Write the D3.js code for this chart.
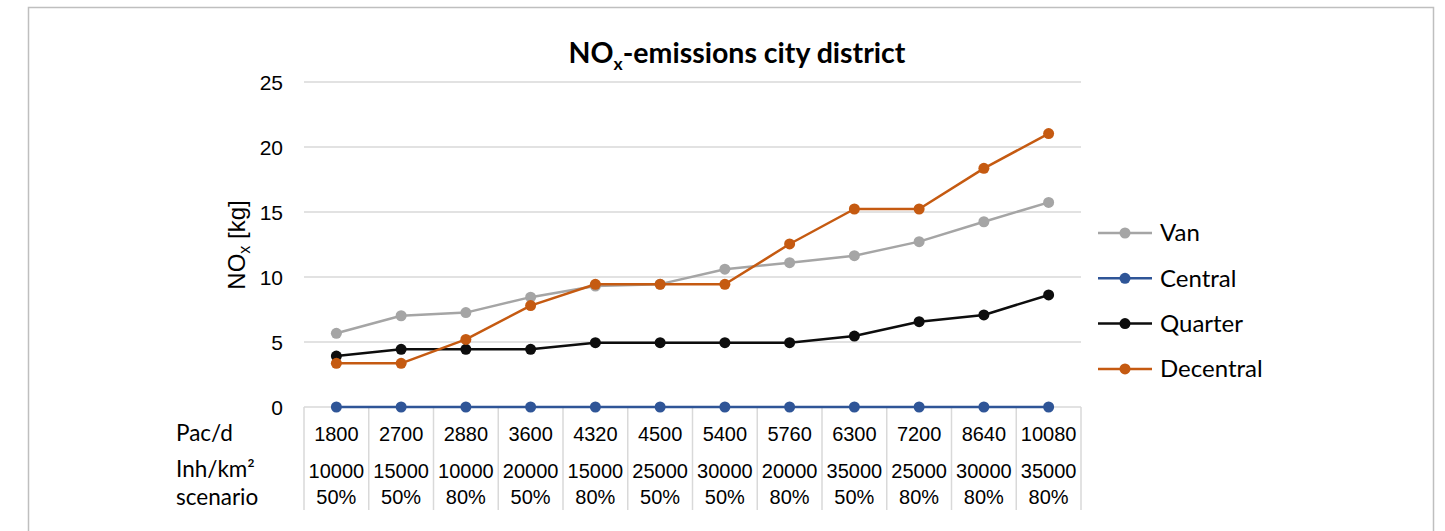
<!DOCTYPE html>
<html>
<head>
<meta charset="utf-8">
<script src="https://cdn.jsdelivr.net/npm/d3@7"></script>
<style>
  html, body { margin: 0; padding: 0; background: #fff; }
  svg { display: block; }
</style>
</head>
<body>
<svg id="chart" width="1445" height="531"></svg>
<script>
// ---- data ----
const pacPerDay = ["1800","2700","2880","3600","4320","4500","5400","5760","6300","7200","8640","10080"];
const inhPerKm2 = ["10000","15000","10000","20000","15000","25000","30000","20000","35000","25000","30000","35000"];
const scenario  = ["50%","50%","80%","50%","80%","50%","50%","80%","50%","80%","80%","80%"];
const van       = [5.67, 7.02, 7.26, 8.45, 9.3, 9.45, 10.6, 11.1, 11.64, 12.72, 14.25, 15.74];
const central   = [0,0,0,0,0,0,0,0,0,0,0,0];
const quarter   = [3.92, 4.44, 4.44, 4.44, 4.95, 4.95, 4.95, 4.95, 5.46, 6.56, 7.08, 8.62];
const decentral = [3.36, 3.36, 5.2, 7.8, 9.44, 9.44, 9.44, 12.54, 15.23, 15.23, 18.36, 21.03];
const yTicks = [0, 5, 10, 15, 20, 25];
const rowLabels = ["Pac/d", "Inh/km²", "scenario"];

(function () {
const series = [
  { name: "Van", values: van, color: "#A5A5A5" },
  { name: "Central", values: central, color: "#2F5597" },
  { name: "Quarter", values: quarter, color: "#0D0D0D" },
  { name: "Decentral", values: decentral, color: "#C55A11" }
];

const svg = d3.select("#chart");
const pLeft = 304, pRight = 1081, pTop = 82, pBottom = 407;

// outer border
svg.append("rect").attr("x", 28.5).attr("y", 7.5).attr("width", 1405).attr("height", 560)
  .attr("fill", "#fff").attr("stroke", "#BFBFBF").attr("stroke-width", 1.5);

const x = d3.scaleBand().domain(pacPerDay.map((d, i) => i)).range([pLeft, pRight]).padding(0);
const y = d3.scaleLinear().domain([0, 25]).range([pBottom, pTop]);

// gridlines
svg.append("g").selectAll("line").data(yTicks.filter(d => d > 0)).join("line")
  .attr("x1", pLeft).attr("x2", pRight)
  .attr("y1", d => y(d)).attr("y2", d => y(d))
  .attr("stroke", "#D9D9D9").attr("stroke-width", 1.5);

// y axis labels
const yAxis = d3.axisLeft(y).tickValues(yTicks).tickSize(0).tickPadding(0);
const gy = svg.append("g").attr("transform", `translate(${pLeft - 21},0)`).call(yAxis);
gy.select(".domain").remove();
gy.selectAll("text").attr("font-family", "Liberation Sans, Arial, sans-serif")
  .attr("font-size", 21).attr("fill", "#000").attr("dy", "0.35em");

// y axis title
const yt = svg.append("text")
  .attr("transform", `translate(245,245) rotate(-90)`)
  .attr("text-anchor", "middle")
  .attr("font-family", "Liberation Sans, Arial, sans-serif")
  .attr("font-size", 24).attr("fill", "#000");
yt.append("tspan").text("NO");
yt.append("tspan").text("x").attr("font-size", 16).attr("dy", 5);
yt.append("tspan").text(" [kg]").attr("dy", -5);

// table: baseline + vertical cell lines
svg.append("line").attr("x1", pLeft).attr("x2", pRight).attr("y1", pBottom).attr("y2", pBottom)
  .attr("stroke", "#D9D9D9").attr("stroke-width", 1.5);
const bounds = pacPerDay.map((d, i) => x(i)).concat([x(pacPerDay.length - 1) + x.bandwidth()]);
svg.append("g").selectAll("line").data(bounds).join("line")
  .attr("x1", d => d).attr("x2", d => d).attr("y1", pBottom).attr("y2", 510)
  .attr("stroke", "#D9D9D9").attr("stroke-width", 1.5);

const cellFont = "Liberation Sans, Arial, sans-serif";
const rowsData = [
  { vals: pacPerDay, yb: 441 },
  { vals: inhPerKm2, yb: 478 },
  { vals: scenario, yb: 504 }
];
rowsData.forEach(r => {
  svg.append("g").selectAll("text").data(r.vals).join("text")
    .attr("x", (d, i) => x(i) + x.bandwidth() / 2)
    .attr("y", r.yb)
    .attr("text-anchor", "middle")
    .attr("font-family", cellFont).attr("font-size", 20).attr("fill", "#000")
    .text(d => d);
});

// row labels
const labelFont = "Lato, Carlito, Calibri, sans-serif";
svg.append("g").selectAll("text").data(rowLabels).join("text")
  .attr("x", 176).attr("y", (d, i) => [441, 477, 505][i])
  .attr("font-family", labelFont).attr("font-size", 22.5).attr("fill", "#000")
  .text(d => d);

// lines & markers
const line = d3.line().x((d, i) => x(i) + x.bandwidth() / 2).y(d => y(d));
series.forEach(s => {
  svg.append("path").datum(s.values).attr("d", line)
    .attr("fill", "none").attr("stroke", s.color).attr("stroke-width", 2.5)
    .attr("stroke-linejoin", "round");
  svg.append("g").selectAll("circle").data(s.values).join("circle")
    .attr("cx", (d, i) => x(i) + x.bandwidth() / 2).attr("cy", d => y(d))
    .attr("r", 5.5).attr("fill", s.color);
});

// title
const title = svg.append("text").attr("x", 737).attr("y", 63).attr("text-anchor", "middle")
  .attr("font-family", labelFont).attr("font-weight", "bold").attr("font-size", 28.5).attr("fill", "#000");
title.append("tspan").text("NO");
title.append("tspan").text("x").attr("font-size", 17.5).attr("dy", 7);
title.append("tspan").text("-emissions city district").attr("dy", -7);

// legend
const lg = svg.append("g").selectAll("g").data(series).join("g")
  .attr("transform", (d, i) => `translate(0,${233 + i * 45.3})`);
lg.append("line").attr("x1", 1098).attr("x2", 1152).attr("y1", 0).attr("y2", 0)
  .attr("stroke", d => d.color).attr("stroke-width", 2.5);
lg.append("circle").attr("cx", 1125).attr("cy", 0).attr("r", 5.5).attr("fill", d => d.color);
lg.append("text").attr("x", 1160).attr("y", 0).attr("dy", "0.35em")
  .attr("font-family", labelFont).attr("font-size", 24).attr("fill", "#000")
  .text(d => d.name);
})();
</script>
</body>
</html>
